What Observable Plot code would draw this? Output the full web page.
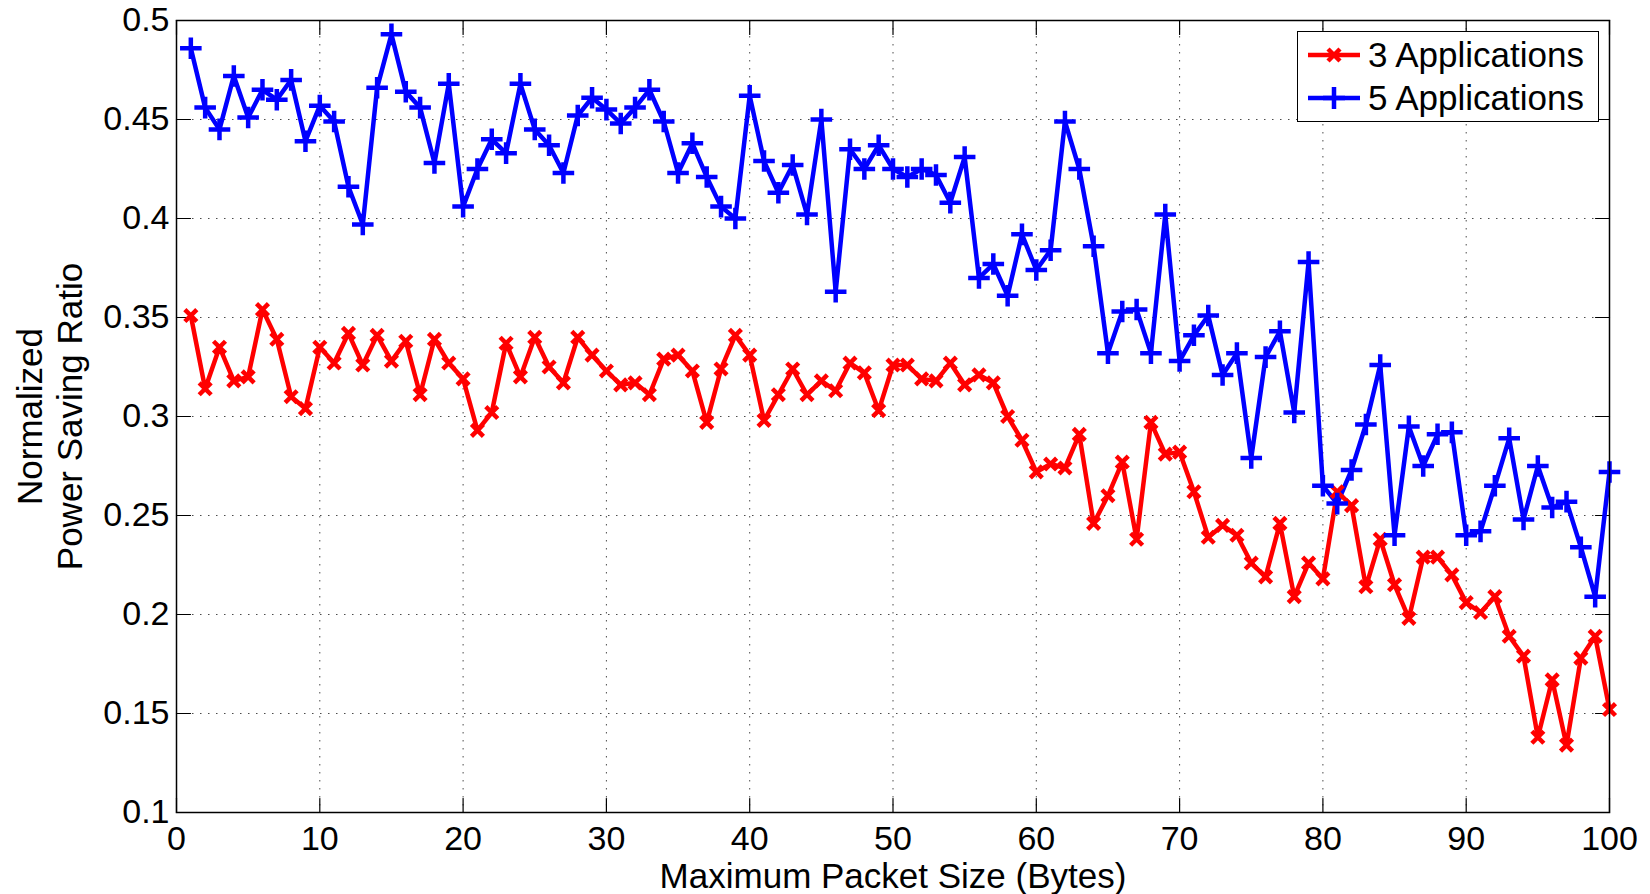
<!DOCTYPE html>
<html>
<head>
<meta charset="utf-8">
<script src="https://cdn.jsdelivr.net/npm/d3@7"></script>
<script src="https://cdn.jsdelivr.net/npm/@observablehq/plot@0.6"></script>
<style>
  html, body { margin: 0; padding: 0; background: #fff; }
  #wrap { position: relative; width: 1650px; height: 894px; font-family: "Liberation Sans", Arial, sans-serif; }
  #legend { position: absolute; left: 1297px; top: 31px; width: 302px; height: 91px; box-sizing: border-box;
            border: 1.5px solid #000; background: #fff; }
  #legend .row { position: absolute; left: 0; height: 40px; display: flex; align-items: center; }
  #legend .row span { font-size: 35px; color: #000; margin-left: 4px; white-space: nowrap; }
</style>
</head>
<body>
<div id="wrap"></div>
<script>
// ---- data ----
const packetSizes = [1,2,3,4,5,6,7,8,9,10,11,12,13,14,15,16,17,18,19,20,21,22,23,24,25,26,27,28,29,30,
  31,32,33,34,35,36,37,38,39,40,41,42,43,44,45,46,47,48,49,50,51,52,53,54,55,56,57,58,59,60,
  61,62,63,64,65,66,67,68,69,70,71,72,73,74,75,76,77,78,79,80,81,82,83,84,85,86,87,88,89,90,
  91,92,93,94,95,96,97,98,99,100];

const apps3 = [0.351,0.314,0.335,0.318,0.320,0.354,0.339,0.310,0.304,0.335,
  0.327,0.342,0.326,0.341,0.328,0.338,0.311,0.339,0.327,0.319,
  0.293,0.302,0.337,0.320,0.340,0.325,0.317,0.340,0.331,0.323,
  0.316,0.317,0.311,0.329,0.331,0.323,0.297,0.324,0.341,0.331,
  0.298,0.311,0.324,0.311,0.318,0.313,0.327,0.322,0.303,0.326,
  0.326,0.319,0.318,0.327,0.316,0.321,0.317,0.300,0.288,0.272,
  0.276,0.274,0.291,0.246,0.260,0.277,0.238,0.297,0.281,0.282,
  0.262,0.239,0.245,0.240,0.226,0.219,0.246,0.209,0.226,0.218,
  0.262,0.255,0.214,0.238,0.215,0.198,0.229,0.229,0.220,0.206,
  0.201,0.209,0.189,0.179,0.138,0.167,0.134,0.178,0.189,0.152];

const apps5 = [0.486,0.456,0.445,0.472,0.451,0.465,0.460,0.470,0.439,0.457,
  0.449,0.416,0.397,0.466,0.493,0.464,0.456,0.428,0.468,0.406,
  0.425,0.440,0.433,0.468,0.445,0.437,0.423,0.452,0.461,0.455,
  0.448,0.456,0.465,0.449,0.423,0.438,0.421,0.406,0.400,0.462,
  0.429,0.413,0.427,0.402,0.450,0.363,0.435,0.425,0.437,0.425,
  0.421,0.425,0.422,0.408,0.431,0.370,0.377,0.361,0.392,0.374,
  0.384,0.449,0.425,0.386,0.332,0.353,0.354,0.332,0.402,0.328,
  0.341,0.351,0.321,0.332,0.279,0.330,0.343,0.302,0.378,0.265,
  0.256,0.273,0.296,0.326,0.240,0.295,0.275,0.291,0.292,0.240,
  0.242,0.265,0.289,0.248,0.275,0.254,0.257,0.234,0.209,0.272];

const seriesNames = ["3 Applications", "5 Applications"];
const seriesColors = ["#ff0000", "#0000ff"];
const seriesSymbols = ["times", "plus"];
const xTicks = [0,10,20,30,40,50,60,70,80,90,100];
const yTicks = [0.1,0.15,0.2,0.25,0.3,0.35,0.4,0.45,0.5];
const xLabel = "Maximum Packet Size (Bytes)";
const yLabel = "Normalized\nPower Saving Ratio";

// ---- build table ----
const seriesValues = [apps3, apps5];
const rows = [];
seriesNames.forEach((name, s) => {
  packetSizes.forEach((x, i) => rows.push({series: name, x, y: seriesValues[s][i]}));
});

const tickShape = {draw(context, l) { context.moveTo(0, 0); context.lineTo(0, -l); }};
const gridStyle = {stroke: "#000", strokeOpacity: 0.7, strokeWidth: 1, strokeDasharray: "1.5,6.5"};
const tickStyle = {length: 14, anchor: "start", shape: tickShape, stroke: "#000", strokeWidth: 1.2};

const chart = Plot.plot({
  width: 1650,
  height: 894,
  marginLeft: 176,
  marginRight: 41,
  marginTop: 20,
  marginBottom: 82,
  x: {domain: [xTicks[0], xTicks[xTicks.length - 1]]},
  y: {domain: [yTicks[0], yTicks[yTicks.length - 1]]},
  color: {domain: seriesNames, range: seriesColors},
  style: {fontFamily: "Liberation Sans, Arial, sans-serif", fontSize: "34px", color: "#000", background: "#fff", overflow: "visible"},
  marks: [
    Plot.gridX(xTicks, gridStyle),
    Plot.gridY(yTicks, gridStyle),
    Plot.axisX({ticks: xTicks, tickSize: 0, tickPadding: 13, fontSize: 34, label: null}),
    Plot.axisY({ticks: yTicks, tickSize: 0, tickPadding: 7, fontSize: 34, label: null, tickFormat: d => String(d)}),
    Plot.vector(xTicks, {x: d => d, frameAnchor: "bottom", rotate: 0, ...tickStyle}),
    Plot.vector(xTicks, {x: d => d, frameAnchor: "top", rotate: 180, ...tickStyle}),
    Plot.vector(yTicks, {y: d => d, frameAnchor: "left", rotate: 90, ...tickStyle}),
    Plot.vector(yTicks, {y: d => d, frameAnchor: "right", rotate: -90, ...tickStyle}),
    Plot.line(rows, {x: "x", y: "y", z: "series", stroke: "series", strokeWidth: 4.5, strokeLinejoin: "miter"}),
    Plot.dot(rows.filter(d => d.series === seriesNames[0]), {x: "x", y: "y", stroke: "series", symbol: () => seriesSymbols[0], r: 5.5, strokeWidth: 4.5, fill: "none"}),
    Plot.dot(rows.filter(d => d.series === seriesNames[1]), {x: "x", y: "y", stroke: "series", symbol: () => seriesSymbols[1], r: 7, strokeWidth: 4.5, fill: "none"}),
    Plot.frame({stroke: "#000", strokeWidth: 1.5}),
    Plot.text([xLabel], {frameAnchor: "bottom", dy: 75, lineAnchor: "bottom", textAnchor: "middle", fontSize: 35, fill: "#000"}),
    Plot.text([yLabel], {frameAnchor: "left", dx: -127, rotate: -90, textAnchor: "middle", lineAnchor: "middle", lineHeight: 1.12, fontSize: 35, fill: "#000"})
  ]
});

const wrap = document.getElementById("wrap");
wrap.appendChild(chart);

// ---- legend (inside the plot, top-right) ----
const legend = document.createElement("div");
legend.id = "legend";
wrap.appendChild(legend);
seriesNames.forEach((name, i) => {
  const row = document.createElement("div");
  row.className = "row";
  row.style.top = (3 + i * 43) + "px";
  const svg = d3.create("svg").attr("width", 66).attr("height", 40);
  svg.append("line").attr("x1", 10).attr("x2", 62).attr("y1", 20).attr("y2", 20)
     .attr("stroke", seriesColors[i]).attr("stroke-width", 4.5);
  const sym = seriesSymbols[i] === "plus" ? d3.symbolPlus : d3.symbolTimes;
  svg.append("path").attr("d", d3.symbol(sym, i === 1 ? 160 : 95)())
     .attr("transform", "translate(36,20)").attr("fill", "none")
     .attr("stroke", seriesColors[i]).attr("stroke-width", 4.5);
  row.appendChild(svg.node());
  const span = document.createElement("span");
  span.textContent = name;
  row.appendChild(span);
  legend.appendChild(row);
});
</script>
</body>
</html>
